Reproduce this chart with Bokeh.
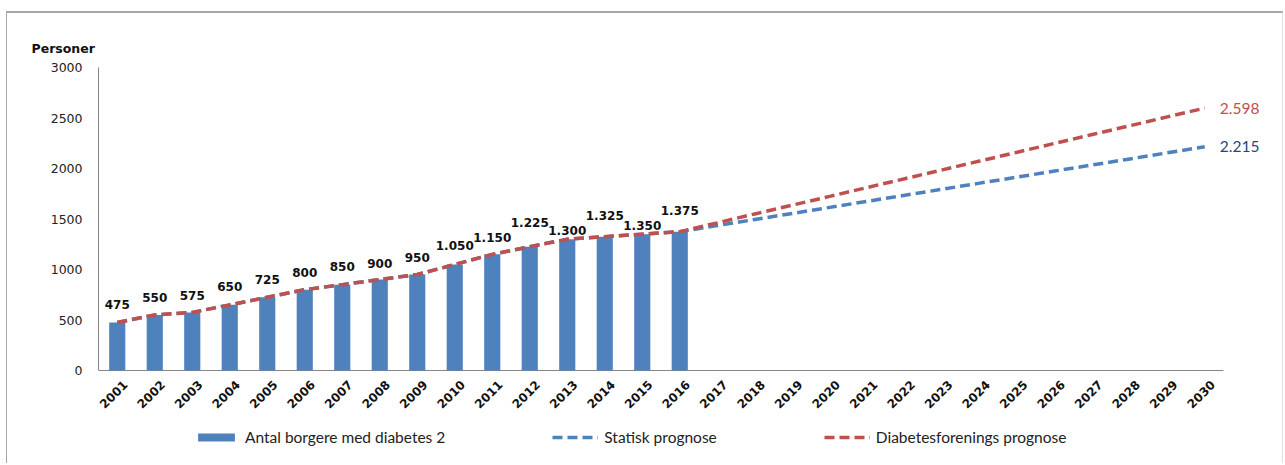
import math
from bokeh.plotting import figure
from bokeh.models import (Range1d, FixedTicker, Legend, LegendItem, ColumnDataSource)
from bokeh.core.properties import value
from bokeh.embed import file_html
from bokeh.resources import INLINE

# ---------------- data ----------------
years = [2001, 2002, 2003, 2004, 2005, 2006, 2007, 2008, 2009, 2010,
         2011, 2012, 2013, 2014, 2015, 2016, 2017, 2018, 2019, 2020,
         2021, 2022, 2023, 2024, 2025, 2026, 2027, 2028, 2029, 2030]
bar_years = years[:16]
borgere = [475, 550, 575, 650, 725, 800, 850, 900, 950, 1050,
           1150, 1225, 1300, 1325, 1350, 1375]
statisk = [475, 550, 575, 650, 725, 800, 850, 900, 950, 1050,
           1150, 1225, 1300, 1325, 1350, 1375, 1435, 1495, 1555, 1615,
           1675, 1735, 1795, 1855, 1915, 1975, 2035, 2095, 2155, 2215]
diabetesforening = [475, 550, 575, 650, 725, 800, 850, 900, 950, 1050,
                    1150, 1225, 1300, 1325, 1350, 1375, 1462, 1550, 1637, 1724,
                    1812, 1899, 1986, 2074, 2161, 2249, 2336, 2423, 2511, 2598]
y_ticks = [0, 500, 1000, 1500, 2000, 2500, 3000]
tick_labels = [str(y) for y in years]
series_names = ["Antal borgere med diabetes 2", "Statisk prognose", "Diabetesforenings prognose"]
y_title = "Personer"

# label placement (style, not data): screen px above the bar top
label_lift = [18, 17, 17, 18, 18, 17, 18, 16, 17, 19, 17, 24, 9, 21, 9, 21]

def dk(v):
    return f"{v:,}".replace(",", ".")

BAR = "#4F81BD"
RED = "#C0504D"
BLUE_LINE = "#4F81BD"
NAVY = "#1F497D"
AXIS = "#868686"

X0, X1 = years[0] - 0.5, years[-1] + 0.5
Y0, Y1 = y_ticks[0], y_ticks[-1]

# pixel geometry of the frame (style)
PX_PER_YEAR = 37.5
PX_PER_UNIT = 303.0 / 3000.0
FRAME_W = 1186
ABOVE_AXIS_PX = 310   # frame top is 310 px above the value axis zero
BELOW_AXIS_PX = 95    # frame bottom is 95 px below it

p = figure(width=1277, height=452, output_backend="svg", toolbar_location=None,
           x_axis_location=None,
           x_range=Range1d(X0, X0 + FRAME_W / PX_PER_YEAR),
           y_range=Range1d(Y0 - BELOW_AXIS_PX / PX_PER_UNIT, Y0 + ABOVE_AXIS_PX / PX_PER_UNIT),
           min_border_left=91, min_border_right=0, min_border_top=47, min_border_bottom=0)
p.outline_line_color = None
p.grid.visible = False
p.background_fill_color = "white"
p.border_fill_color = "white"
p.styles = {"border-left": "1px solid #a6a6a6", "border-top": "2px solid #a6a6a6",
            "border-right": "1px solid #e0e0e0", "margin-left": "6px", "margin-top": "11px"}

# y title
p.title.text = y_title
p.title.align = "left"
p.title.offset = -67
p.title.standoff = 10
p.title.text_font = "DejaVu Sans"
p.title.text_font_style = "bold"
p.title.text_font_size = "12.5px"
p.title.text_color = "#111111"

# y axis
p.yaxis.ticker = FixedTicker(ticks=y_ticks)
p.yaxis.bounds = (Y0, Y1)
p.yaxis.axis_line_color = AXIS
p.yaxis.major_tick_line_color = None
p.yaxis.major_tick_out = 0
p.yaxis.major_tick_in = 0
p.yaxis.minor_tick_line_color = None
p.yaxis.major_label_text_font = "DejaVu Sans"
p.yaxis.major_label_text_font_size = "12.5px"
p.yaxis.major_label_text_color = "#222222"
p.yaxis.major_label_standoff = 16

# x axis line and rotated category labels
p.segment(x0=[X0], y0=[Y0], x1=[X1], y1=[Y0], line_color=AXIS, line_width=1)
p.text(x=years, y=[Y0] * len(years), text=tick_labels, angle=math.pi / 4,
       x_offset=8, y_offset=12, text_align="right", text_baseline="middle",
       text_font=value("DejaVu Sans"), text_font_style="bold", text_font_size="12px",
       text_color="#111111")

# bars
bars = p.vbar(x=bar_years, top=borgere, width=0.43, fill_color=BAR, line_color=None)

# lines
l_stat = p.line(years, statisk, line_color=BLUE_LINE, line_width=3.5, line_dash="10 5")
l_dia = p.line(years, diabetesforening, line_color=RED, line_width=3.5, line_dash="10 5")

# bar value labels
src = ColumnDataSource(dict(x=bar_years, y=borgere, t=[dk(v) for v in borgere],
                            off=[-o for o in label_lift]))
p.text(x="x", y="y", text="t", y_offset="off", source=src, text_align="center",
       text_baseline="middle", text_font=value("DejaVu Sans"), text_font_style="bold",
       text_font_size="12px", text_color="#111111")

# end labels
p.text(x=[years[-1]], y=[diabetesforening[-1]], text=[dk(diabetesforening[-1])], x_offset=15,
       text_align="left", text_baseline="middle", text_font=value("Lato"),
       text_font_size="15.5px", text_color=RED)
p.text(x=[years[-1]], y=[statisk[-1]], text=[dk(statisk[-1])], x_offset=15,
       text_align="left", text_baseline="middle", text_font=value("Lato"),
       text_font_size="15.5px", text_color=NAVY)

legend = Legend(items=[LegendItem(label=series_names[0], renderers=[bars]),
                       LegendItem(label=series_names[1], renderers=[l_stat]),
                       LegendItem(label=series_names[2], renderers=[l_dia])],
                orientation="horizontal", location=(95, 19),
                glyph_width=46, glyph_height=10, label_standoff=6, spacing=107,
                padding=0, margin=0, border_line_color=None, background_fill_alpha=0,
                label_text_font="Lato", label_text_font_size="15.5px",
                label_text_color="#222222", label_height=16)
p.add_layout(legend, "center")

open("out.html", "w").write(file_html(p, INLINE))
